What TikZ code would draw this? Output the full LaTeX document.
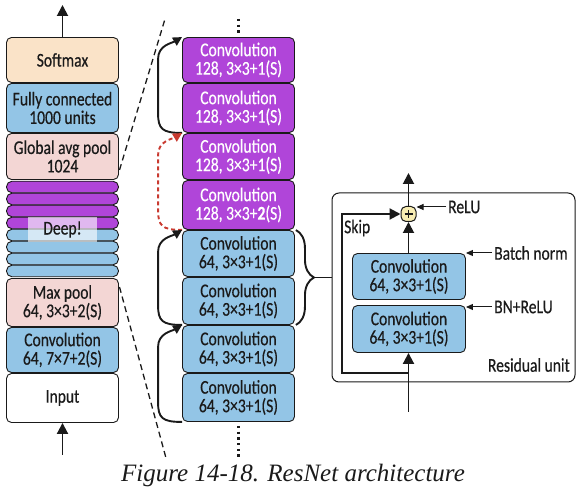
\documentclass[tikz,border=0pt]{standalone}
\usepackage{fontspec}
\setmainfont{Carlito}[FakeStretch=0.8,FakeBold=0.4]
\newfontfamily\capfont{Liberation Serif}
\usetikzlibrary{arrows.meta,decorations.pathreplacing,calc}
\definecolor{softc}{HTML}{FAE3C8}
\definecolor{bluec}{HTML}{93C5E6}
\definecolor{pinkc}{HTML}{F3D6D4}
\definecolor{purpc}{HTML}{B045D9}
\definecolor{yelc}{HTML}{F8EDB3}
\definecolor{redc}{HTML}{C93A30}
\definecolor{inkc}{HTML}{1A1A1A}
\newcommand\skipcurve[3]{\draw[#1] (#2.south west) .. controls ($(#2.south west)+(-20,0)$) and ($(#2.south west)+(-24,-4)$) .. ($(#2.south west)+(-24,-20)$) -- ($(#3.north west)+(-24,22)$) .. controls ($(#3.north west)+(-24,8)$) and ($(#3.north west)+(-10,6)$) .. (#3.north west);}
\begin{document}
\begin{tikzpicture}[x=1pt,y=-1pt,
  box/.style={draw=inkc, line width=0.9pt, rounded corners=5pt, minimum width=112pt, inner sep=0pt, align=center, font=\fontsize{19.5}{18.5}\selectfont, text=inkc},
  purp/.style={box, fill=purpc, text=white},
  blu/.style={box, fill=bluec},
  strip/.style={draw=inkc, line width=0.9pt, rounded corners=5.5pt, minimum width=112pt, minimum height=11.5pt, inner sep=0pt},
  flow/.style={line width=1.9pt, draw=inkc, -{Triangle[length=11pt,width=11pt]}},
  skiparr/.style={line width=1.9pt, draw=inkc, -{Triangle[length=9pt,width=9pt]}},
  redskip/.style={line width=1.9pt, draw=redc, dash pattern=on 4pt off 3pt, -{Triangle[length=9pt,width=9pt]}},
  lbl/.style={font=\fontsize{19.5}{18.5}\selectfont, text=inkc, inner sep=2pt},
  lblarr/.style={line width=1pt, draw=inkc, -{Triangle[length=7pt,width=6pt]}},
  zoomline/.style={line width=1.3pt, dash pattern=on 6pt off 4pt, draw=inkc},
  dotline/.style={line width=2.4pt, dash pattern=on 2.2pt off 3.5pt, draw=inkc},
]
\useasboundingbox (0,0) rectangle (582,494);
\fill[white] (0,0) rectangle (582,494);

% zoom lines
\coordinate (z1a) at (119.5,170); \coordinate (z1b) at (165,19);
\draw[zoomline] (z1a) -- (z1b);
\coordinate (z2a) at (119.5,287); \coordinate (z2b) at (166,458);
\draw[zoomline] (z2a) -- (z2b);

% left column
\node[box, fill=softc, minimum height=45pt] (soft) at (62.5,60) {Softmax};
\node[blu, minimum height=49pt] (fc) at (62.5,108) {Fully connected\\1000 units};
\node[box, fill=pinkc, minimum height=46pt] (gap) at (62.5,156.5) {Global avg pool\\1024};
\foreach \i in {0,...,3} {\node[strip, fill=purpc] (sp\i) at (62.5,187+12*\i) {};}
\foreach \i in {0,...,3} {\node[strip, fill=bluec] (sb\i) at (62.5,235+12*\i) {};}
\fill[white, opacity=0.62] (28,217) rectangle (97,242);
\node[lbl] (deep) at (62.5,229.5) {Deep!};
\node[box, fill=pinkc, minimum height=48pt] (mp) at (62.5,302.5) {Max pool\\64, 3×3+2(S)};
\node[blu, minimum height=45pt] (c7) at (62.5,350) {Convolution\\64, 7×7+2(S)};
\node[box, fill=white, minimum height=49pt] (inp) at (62.5,398) {Input};
\coordinate (outtop) at (62.5,5);
\coordinate (inbot) at (62.5,455);
\draw[flow] (soft.north) -- (outtop);
\draw[flow] (inbot) -- (inp.south);

% middle column
\node[purp, minimum height=45pt] (p1) at (238.5,60) {Convolution\\128, 3×3+1(S)};
\node[purp, minimum height=49pt] (p2) at (238.5,108) {Convolution\\128, 3×3+1(S)};
\node[purp, minimum height=46pt] (p3) at (238.5,156.5) {Convolution\\128, 3×3+1(S)};
\node[purp, minimum height=49pt] (p4) at (238.5,205) {Convolution\\128, 3×3+\textbf{2}(S)};
\node[blu, minimum height=46pt] (b1) at (238.5,253.5) {Convolution\\64, 3×3+1(S)};
\node[blu, minimum height=47pt] (b2) at (238.5,301) {Convolution\\64, 3×3+1(S)};
\node[blu, minimum height=47pt] (b3) at (238.5,349) {Convolution\\64, 3×3+1(S)};
\node[blu, minimum height=48pt] (b4) at (238.5,397.5) {Convolution\\64, 3×3+1(S)};
\coordinate (dta) at (238.5,19); \coordinate (dtb) at (238.5,34);
\draw[dotline] (dta) -- (dtb);
\coordinate (dba) at (238.5,426); \coordinate (dbb) at (238.5,457);
\draw[dotline] (dba) -- (dbb);

\skipcurve{skiparr}{p2}{p1}
\skipcurve{redskip}{p4}{p3}
\skipcurve{skiparr}{b2}{b1}
\skipcurve{skiparr}{b4}{b3}

% brace
\draw[line width=1.9pt, draw=inkc, decorate, decoration={brace, amplitude=18pt}] ($(b1.north east)+(1,0)$) -- ($(b2.south east)+(1,0)$);
\coordinate (bt) at (314,277.5);

% residual unit
\node[draw=inkc, line width=1pt, rounded corners=7pt, minimum width=243pt, minimum height=189pt] (res) at (453.5,287.5) {};
\draw[line width=1.4pt, draw=inkc] (bt) -- (bt -| res.west);
\node[blu, minimum width=113pt, minimum height=46pt] (rc1) at (409,276.5) {Convolution\\64, 3×3+1(S)};
\node[blu, minimum width=113pt, minimum height=47pt] (rc2) at (409,329) {Convolution\\64, 3×3+1(S)};
\node[draw=inkc, fill=yelc, line width=1pt, rounded corners=5pt, minimum size=15pt, inner sep=0pt] (plus) at (408.5,214) {};
\draw[line width=1.6pt, draw=inkc] ($(plus.center)+(-4,0)$) -- ($(plus.center)+(4,0)$);
\draw[line width=1.6pt, draw=inkc] ($(plus.center)+(0,-4)$) -- ($(plus.center)+(0,4)$);
\coordinate (rin) at (408.5,412);
\coordinate (rout) at (408.5,173);
\draw[flow] (rin) -- (rin |- rc2.south);
\draw[flow] (rc1.north -| plus.south) -- (plus.south);
\draw[flow] (plus.north) -- (rout);
\coordinate (sk1) at (408.5,373); \coordinate (sk2) at (342,373); \coordinate (sk3) at (342,214);
\draw[flow, line width=2.1pt] (sk1) -- (sk2) -- (sk3) -- (plus.west);

\node[lbl, anchor=west] (relu) at (446,207) {ReLU};
\draw[lblarr] (relu.west) -- (relu.west -| plus.east);
\node[lbl, anchor=west] (bn) at (492,253) {Batch norm};
\draw[lblarr] (bn.west) -- (bn.west -| rc1.east);
\node[lbl, anchor=west] (bnr) at (492,307) {BN+ReLU};
\draw[lblarr] (bnr.west) -- (bnr.west -| rc1.east);
\node[lbl, anchor=east] (rul) at (572,365) {Residual unit};
\node[lbl, anchor=west] (skl) at (342,228) {Skip};

% caption
\node[font=\capfont\itshape\fontsize{25}{27}\selectfont, text=inkc] (cap) at (293,475) {Figure 14-18. ResNet architecture};
\end{tikzpicture}
\end{document}
